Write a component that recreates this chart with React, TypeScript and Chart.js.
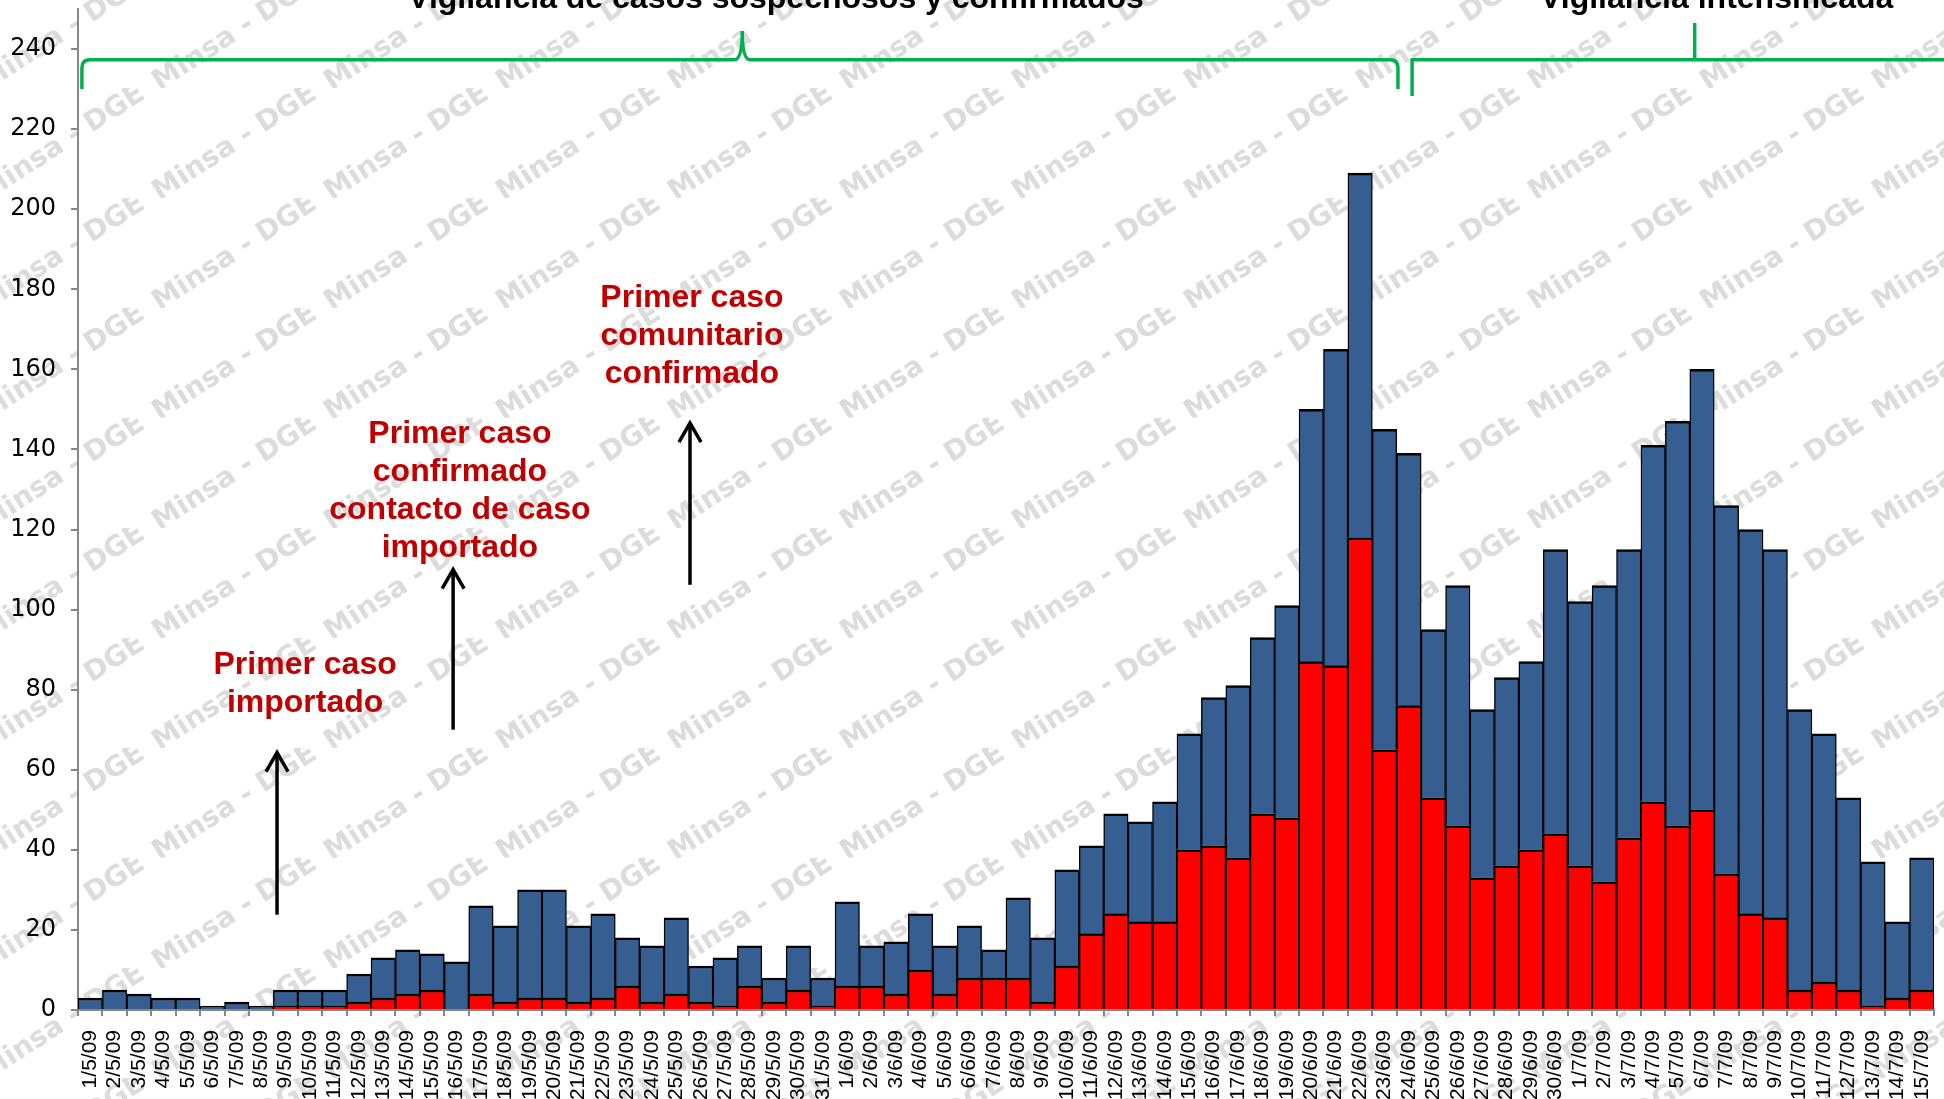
import React, { useEffect, useRef } from 'react';
import { Chart, registerables } from 'chart.js';

Chart.register(...registerables);

// ---------- DATA ----------
const fechas: string[] = [
  '1/5/09', '2/5/09', '3/5/09', '4/5/09', '5/5/09', '6/5/09', '7/5/09', '8/5/09', '9/5/09', '10/5/09',
  '11/5/09', '12/5/09', '13/5/09', '14/5/09', '15/5/09', '16/5/09', '17/5/09', '18/5/09', '19/5/09', '20/5/09',
  '21/5/09', '22/5/09', '23/5/09', '24/5/09', '25/5/09', '26/5/09', '27/5/09', '28/5/09', '29/5/09', '30/5/09',
  '31/5/09', '1/6/09', '2/6/09', '3/6/09', '4/6/09', '5/6/09', '6/6/09', '7/6/09', '8/6/09', '9/6/09',
  '10/6/09', '11/6/09', '12/6/09', '13/6/09', '14/6/09', '15/6/09', '16/6/09', '17/6/09', '18/6/09', '19/6/09',
  '20/6/09', '21/6/09', '22/6/09', '23/6/09', '24/6/09', '25/6/09', '26/6/09', '27/6/09', '28/6/09', '29/6/09',
  '30/6/09', '1/7/09', '2/7/09', '3/7/09', '4/7/09', '5/7/09', '6/7/09', '7/7/09', '8/7/09', '9/7/09',
  '10/7/09', '11/7/09', '12/7/09', '13/7/09', '14/7/09', '15/7/09',
];

// Casos confirmados (rojo)
const confirmados: number[] = [
  0, 0, 0, 0, 0, 0, 0, 0, 1, 1,
  1, 2, 3, 4, 5, 0, 4, 2, 3, 3,
  2, 3, 6, 2, 4, 2, 1, 6, 2, 5,
  1, 6, 6, 4, 10, 4, 8, 8, 8, 2,
  11, 19, 24, 22, 22, 40, 41, 38, 49, 48,
  87, 86, 118, 65, 76, 53, 46, 33, 36, 40,
  44, 36, 32, 43, 52, 46, 50, 34, 24, 23,
  5, 7, 5, 1, 3, 5,
];

// Casos sospechosos (azul), apilados sobre los confirmados
const sospechosos: number[] = [
  3, 5, 4, 3, 3, 1, 2, 1, 4, 4,
  4, 7, 10, 11, 9, 12, 22, 19, 27, 27,
  19, 21, 12, 14, 19, 9, 12, 10, 6, 11,
  7, 21, 10, 13, 14, 12, 13, 7, 20, 16,
  24, 22, 25, 25, 30, 29, 37, 43, 44, 53,
  63, 79, 91, 80, 63, 42, 60, 42, 47, 47,
  71, 66, 74, 72, 89, 101, 110, 92, 96, 92,
  70, 62, 48, 36, 19, 33,
];

const yTicks: number[] = [0, 20, 40, 60, 80, 100, 120, 140, 160, 180, 200, 220, 240];

const titulos = [
  { text: 'Vigilancia de casos sospechosos y confirmados', x: 28.08, y: 250.2 },
  { text: 'Vigilancia intensificada', x: 66.6, y: 250.2 },
];

const anotaciones = [
  { lines: ['Primer caso', 'importado'], x: 8.8, y: 84 },
  { lines: ['Primer caso', 'confirmado', 'contacto de caso', 'importado'], x: 15.14, y: 141.7 },
  { lines: ['Primer caso', 'comunitario', 'confirmado'], x: 24.64, y: 175.6 },
];

const flechas = [
  { x: 7.65, from: 23.8, to: 64.3 },
  { x: 14.86, from: 70, to: 110 },
  { x: 24.56, from: 106.2, to: 146.6 },
];

const llaves = [
  { x0: -0.34, x1: 53.55, peak: 26.7, line: 237.3, end: 230, top: 244.5, curved: true },
  { x0: 54.13, x1: 77.5, peak: 65.7, line: 237.3, end: 228.3, top: 246.5, curved: false },
];

const WATERMARK = 'Minsa - DGE';

// ---------- PLUGINS ----------
const watermarkPlugin = {
  id: 'watermark',
  beforeDraw(chart: any) {
    const ctx = chart.ctx as CanvasRenderingContext2D;
    ctx.save();
    ctx.fillStyle = '#ffffff';
    ctx.fillRect(0, 0, chart.width, chart.height);
    ctx.font = 'bold 28px "DejaVu Sans", Verdana, sans-serif';
    ctx.fillStyle = '#dcdcdc';
    ctx.textAlign = 'center';
    ctx.textBaseline = 'middle';
    const tw = 172;
    const th = 110;
    for (let ty = -22; ty < chart.height; ty += th) {
      for (let tx = -23; tx < chart.width; tx += tw) {
        ctx.save();
        ctx.beginPath();
        ctx.rect(tx, ty, tw, th);
        ctx.clip();
        ctx.translate(tx + tw / 2, ty + th / 2);
        ctx.rotate((-33 * Math.PI) / 180);
        ctx.fillText(WATERMARK, 0, 0);
        ctx.restore();
      }
    }
    ctx.restore();
  },
};

const annotationPlugin = {
  id: 'annotations',
  afterDraw(chart: any) {
    const ctx = chart.ctx as CanvasRenderingContext2D;
    const xs = chart.scales.x;
    const ys = chart.scales.y;
    ctx.save();

    // Braces
    ctx.strokeStyle = '#00B050';
    ctx.lineWidth = 3.5;
    ctx.lineCap = 'butt';
    ctx.lineJoin = 'miter';
    for (const b of llaves) {
      const x0 = xs.getPixelForValue(b.x0);
      const x1 = xs.getPixelForValue(b.x1);
      const xp = xs.getPixelForValue(b.peak);
      const yl = ys.getPixelForValue(b.line);
      const ye = ys.getPixelForValue(b.end);
      const yt = ys.getPixelForValue(b.top);
      ctx.beginPath();
      if (b.curved) {
        const r = 8;
        ctx.moveTo(x0, ye);
        ctx.lineTo(x0, yl + r);
        ctx.quadraticCurveTo(x0, yl, x0 + r, yl);
        ctx.lineTo(xp - r, yl);
        ctx.quadraticCurveTo(xp, yl, xp, yt);
        ctx.quadraticCurveTo(xp, yl, xp + r, yl);
        ctx.lineTo(x1 - r, yl);
        ctx.quadraticCurveTo(x1, yl, x1, yl + r);
        ctx.lineTo(x1, ye);
      } else {
        ctx.moveTo(x0, ye);
        ctx.lineTo(x0, yl);
        ctx.lineTo(x1, yl);
        ctx.moveTo(xp, yl);
        ctx.lineTo(xp, yt);
      }
      ctx.stroke();
    }

    // Titles
    ctx.fillStyle = '#000000';
    ctx.font = 'bold 32px "Liberation Sans", Arial, sans-serif';
    ctx.textAlign = 'center';
    ctx.textBaseline = 'alphabetic';
    for (const t of titulos) {
      ctx.fillText(t.text, xs.getPixelForValue(t.x), ys.getPixelForValue(t.y));
    }

    // Annotation texts
    ctx.fillStyle = '#C00000';
    const lineH = 38;
    for (const a of anotaciones) {
      const cx = xs.getPixelForValue(a.x);
      const by = ys.getPixelForValue(a.y);
      a.lines.forEach((ln, i) => ctx.fillText(ln, cx, by + i * lineH));
    }

    // Arrows
    ctx.strokeStyle = '#000000';
    ctx.lineWidth = 3.5;
    for (const f of flechas) {
      const x = xs.getPixelForValue(f.x);
      const yb = ys.getPixelForValue(f.from);
      const yt = ys.getPixelForValue(f.to);
      ctx.beginPath();
      ctx.moveTo(x, yb);
      ctx.lineTo(x, yt + 1);
      ctx.stroke();
      ctx.beginPath();
      ctx.moveTo(x - 11, yt + 19);
      ctx.lineTo(x, yt);
      ctx.lineTo(x + 11, yt + 19);
      ctx.stroke();
    }
    ctx.restore();
  },
};

// ---------- COMPONENT ----------
export default function App() {
  const canvasRef = useRef<HTMLCanvasElement | null>(null);

  useEffect(() => {
    document.body.style.margin = '0';
    document.body.style.overflow = 'hidden';
    const canvas = canvasRef.current;
    if (!canvas) return;

    const border = { top: 2.5, left: 1.4, right: 1.4, bottom: 0 };
    const chart = new Chart(canvas, {
      type: 'bar',
      data: {
        labels: fechas,
        datasets: [
          {
            label: 'Confirmados',
            data: confirmados,
            backgroundColor: '#FF0000',
            borderColor: '#000000',
            borderWidth: border,
            borderSkipped: false,
            barPercentage: 1,
            categoryPercentage: 1,
          },
          {
            label: 'Sospechosos',
            data: sospechosos,
            backgroundColor: '#365E91',
            borderColor: '#000000',
            borderWidth: border,
            borderSkipped: false,
            barPercentage: 1,
            categoryPercentage: 1,
          },
        ],
      },
      options: {
        animation: false,
        responsive: false,
        devicePixelRatio: 1,
        layout: { padding: { top: 9, right: 10, left: 0, bottom: 0 } },
        plugins: {
          legend: { display: false },
          tooltip: { enabled: false },
        },
        scales: {
          x: {
            stacked: true,
            grid: {
              display: true,
              drawOnChartArea: false,
              drawTicks: true,
              tickLength: 6,
              color: '#868686',
              lineWidth: 2,
              offset: true,
            },
            border: { display: true, color: '#868686', width: 2 },
            ticks: {
              autoSkip: false,
              maxRotation: 90,
              minRotation: 90,
              color: '#000000',
              padding: 14,
              font: { family: '"Liberation Sans", Arial, sans-serif', size: 21 },
            },
            afterFit: (s: any) => {
              s.height = 89;
              s.paddingLeft = 0;
              s.paddingRight = 0;
            },
          },
          y: {
            stacked: true,
            min: 0,
            max: 250,
            afterBuildTicks: (s: any) => {
              s.ticks = yTicks.map((v) => ({ value: v }));
            },
            grid: {
              display: true,
              drawOnChartArea: false,
              drawTicks: true,
              tickLength: 7,
              color: '#868686',
              lineWidth: 2,
            },
            border: { display: true, color: '#868686', width: 2 },
            ticks: {
              color: '#000000',
              padding: 15,
              font: { family: '"DejaVu Sans", Verdana, sans-serif', size: 24 },
            },
            afterFit: (s: any) => {
              s.width = 78;
              s.paddingTop = 0;
              s.paddingBottom = 0;
            },
          },
        },
      },
      plugins: [watermarkPlugin, annotationPlugin],
    });

    return () => {
      chart.destroy();
    };
  }, []);

  return (
    <div style={{ width: 1944, height: 1099, overflow: 'hidden', position: 'relative' }}>
      <canvas ref={canvasRef} width={1944} height={1099} style={{ display: 'block' }} />
    </div>
  );
}
